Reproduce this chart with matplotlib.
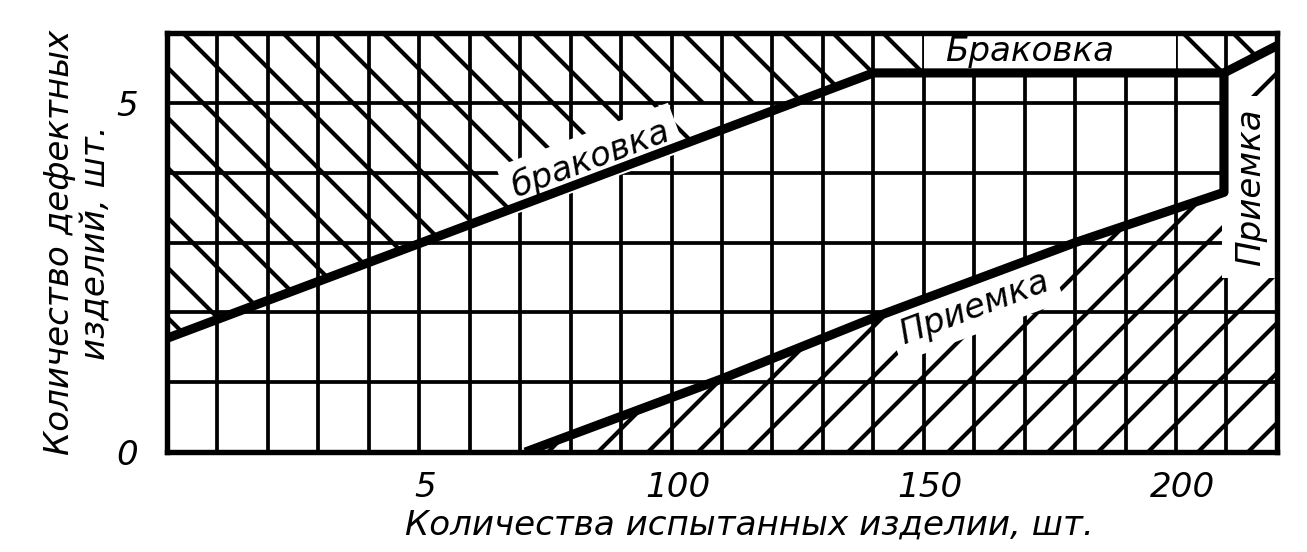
import matplotlib
matplotlib.use("Agg")
import matplotlib.pyplot as plt
import matplotlib.transforms as mtransforms
import numpy as np
from matplotlib.patches import Rectangle

# boundary of the rejection zone (браковка)
reject_x = [0, 140, 209.5, 220]
reject_y = [1.63, 5.43, 5.43, 5.82]

# boundary of the acceptance zone (приемка)
accept_x = [71, 110, 141, 180, 209.5]
accept_y = [0, 1.05, 1.95, 3.0, 3.72]

x_ticks = [50, 100, 150, 200]
x_tick_labels = ["5", "100", "150", "200"]
y_ticks = [0, 5]
y_tick_labels = ["0", "5"]

x_max = 220
y_max = 6

DPI = 300
plt.rcParams["font.family"] = "DejaVu Sans"
plt.rcParams["font.style"] = "italic"
plt.rcParams["hatch.linewidth"] = 1.0

fig = plt.figure(figsize=(1307 / DPI, 552 / DPI), dpi=DPI)
ax = fig.add_axes([0.1278, 0.181, 0.8492, 0.759])
ax.set_xlim(0, x_max)
ax.set_ylim(0, y_max)

# grid every 10 pieces / 1 defect
ax.set_xticks(np.arange(0, x_max + 1, 10), minor=True)
ax.set_yticks(np.arange(0, y_max + 1, 1), minor=True)
ax.set_xticks(x_ticks)
ax.set_xticklabels(x_tick_labels)
ax.set_yticks(y_ticks)
ax.set_yticklabels(y_tick_labels)
ax.set_axisbelow(False)
ax.grid(which="both", color="black", lw=0.9)
ax.tick_params(which="both", length=0, labelsize=8.2)
ax.tick_params(axis="x", pad=4.5)
ax.tick_params(axis="y", pad=7)

# the numbers sit a little right of their grid lines in the drawing
shift = mtransforms.ScaledTranslation(1.5 / 72, 0, fig.dpi_scale_trans)
for lab in ax.get_xticklabels():
    lab.set_transform(lab.get_transform() + shift)

for sp in ax.spines.values():
    sp.set_linewidth(1.3)
    sp.set_zorder(6)

# rejection zone hatch
ax.fill_between(reject_x, reject_y, y_max, facecolor="none", edgecolor="black",
                lw=0, hatch="\\\\", zorder=1)
# acceptance zone hatch
acc_x = accept_x + reject_x[2:]
acc_y = accept_y + reject_y[2:]
ax.fill_between(acc_x, acc_y, 0, facecolor="none", edgecolor="black",
                lw=0, hatch="//", zorder=1)

# blank spots in the hatching
gx = np.linspace(104, 124.2, 20)
ax.fill_between(gx, np.interp(gx, reject_x, reject_y), 5, color="white", lw=0, zorder=1.5)
ax.add_patch(Rectangle((150, reject_y[1]), 50, y_max - reject_y[1], facecolor="white",
                       lw=0, zorder=2.7))

# boundary lines
ax.plot(reject_x, reject_y, color="black", lw=2.2, solid_capstyle="butt", zorder=5)
ax.plot(accept_x + [reject_x[2]], accept_y + [reject_y[2]], color="black", lw=2.2,
        solid_capstyle="butt", zorder=5)

box = dict(boxstyle="square,pad=0.25", facecolor="white", edgecolor="none")
ax.text(84, 4.2, "браковка", fontsize=8.2, rotation=20.5, ha="center", va="center",
        bbox=box, zorder=4)
ax.text(171, 5.73, "Браковка", fontsize=8.2, ha="center", va="center", zorder=4)
ax.text(160, 2.06, "Приемка", fontsize=8.2, rotation=20.5, ha="center", va="center",
        bbox=box, zorder=4)
ax.text(214.8, 3.8, "Приемка", fontsize=8.2, rotation=90, ha="center", va="center",
        bbox=dict(boxstyle="square,pad=0.35", facecolor="white", edgecolor="none"), zorder=4)

ax.set_xlabel("Количества испытанных изделии, шт.", fontsize=8.2)
ax.xaxis.set_label_coords(0.525, -0.135)
ax.set_ylabel("Количество дефектных\nизделий, шт.", fontsize=8.2, linespacing=1.1)
ax.yaxis.set_label_coords(-0.05, 0.5)

fig.savefig("out.png", dpi=DPI)
